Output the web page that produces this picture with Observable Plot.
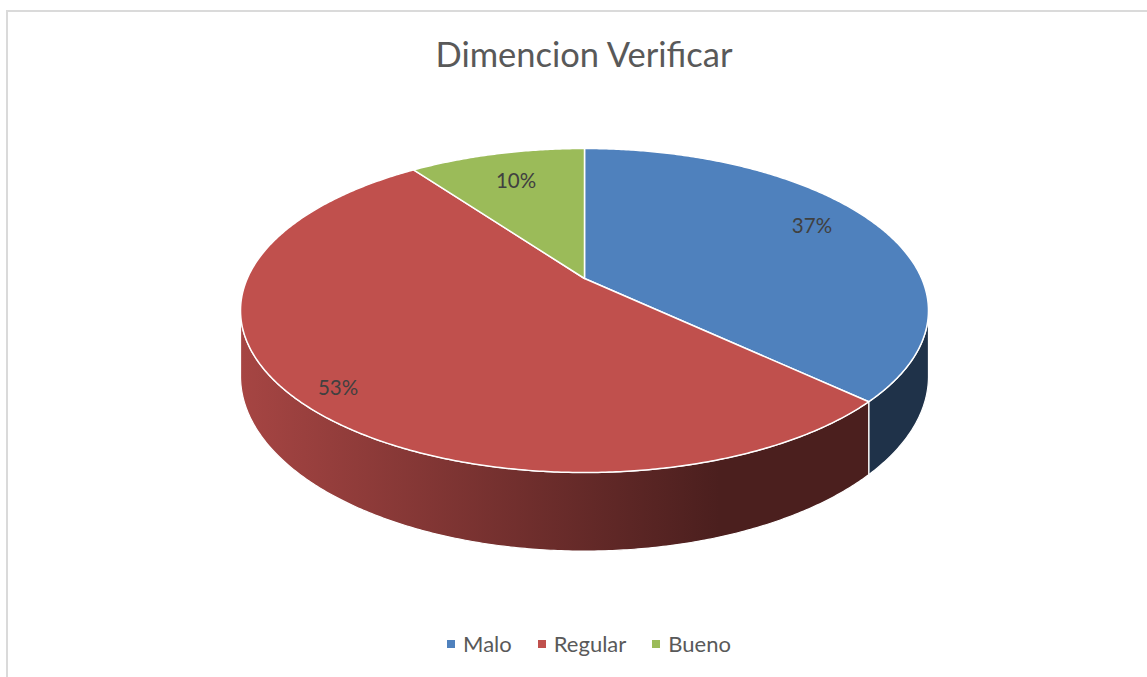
<!DOCTYPE html>
<html><head><meta charset="utf-8">
<script src="https://cdn.jsdelivr.net/npm/d3@7"></script>
<script src="https://cdn.jsdelivr.net/npm/@observablehq/plot@0.6"></script>
<style>
body{margin:0;width:1147px;height:677px;overflow:hidden;background:#fff;font-family:Lato,"Open Sans",sans-serif;position:relative}
#frame{position:absolute;left:6px;top:10px;width:1200px;height:700px;border-top:2px solid #dadada;border-left:2px solid #dadada}
#title{position:absolute;left:8px;width:1152px;top:34px;text-align:center;font-size:34.5px;color:#595959;line-height:40px}
#chart{position:absolute;left:0;top:92px}
#legend{position:absolute;left:13px;width:1152px;top:630px;text-align:center;font-size:22px;color:#595959;line-height:28px}
#legend .item{display:inline-block;margin:0 13px}
#legend .sw{display:inline-block;width:8px;height:8px;margin-right:8px;vertical-align:middle;position:relative;top:-2px}
</style></head><body>
<div id="frame"></div>
<div id="title"></div>
<div id="chart"></div>
<div id="legend"></div>
<script>
const titleText = "Dimencion Verificar";
const categories = ["Malo", "Regular", "Bueno"];
const percentages = [37, 53, 10];
const colors = ["#4f81bd", "#c0504d", "#9bbb59"];

// layout / projection constants (not data)
const W = 1147, H = 520, TOP = 92;
const CX = 584, CY = 278, A = 337.2, B = 155.7;
const P = 0.1975;       // perspective factor
const DEPTH = 0.405;    // side height in y-units

const total = d3.sum(percentages);
function proj(theta, r = 1, drop = 0) {
  const u = r * Math.sin(theta), v = r * Math.cos(theta);
  const w = 1 + P * v;
  return {x: u / w, y: (v - drop) / w};
}
const thR = Math.acos(-P), thL = 2 * Math.PI - thR;

let cum = 0;
const slices = categories.map((c, i) => {
  const t0 = 2 * Math.PI * cum / total;
  cum += percentages[i];
  const t1 = 2 * Math.PI * cum / total;
  return {c, i, t0, t1, pct: percentages[i]};
});

function arc(a, b, r = 1, drop = 0) {
  const n = Math.max(2, Math.ceil((b - a) / (Math.PI / 180) * 2));
  const pts = [];
  for (let k = 0; k <= n; k++) pts.push(proj(a + (b - a) * k / n, r, drop));
  return pts;
}

const marks = [];
// sides
slices.forEach(s => {
  const a = Math.max(s.t0, thR), b = Math.min(s.t1, thL);
  if (b <= a) return;
  const pts = [...arc(a, b, 1, 0), ...arc(a, b, 1, DEPTH).reverse()];
  marks.push(Plot.line(pts, {x: "x", y: "y", curve: "linear-closed", fill: `url(#side${s.i})`, stroke: "#ffffff", strokeWidth: 1.2, strokeLinejoin: "round"}));
});
// top faces
slices.forEach(s => {
  const pts = [{x: 0, y: 0}, ...arc(s.t0, s.t1)];
  marks.push(Plot.line(pts, {x: "x", y: "y", curve: "linear-closed", fill: colors[s.i], stroke: "#ffffff", strokeWidth: 1.5, strokeLinejoin: "round"}));
});
// labels (placement tweaks in pixels)
const labelR = [0.78, 0.88, 0.75];
const labelDx = [0, 5, 0];
const labelDy = [-7, 8, 0];
const labels = slices.map(s => {
  const m = (s.t0 + s.t1) / 2;
  const q = proj(m, labelR[s.i]);
  return {x: q.x + labelDx[s.i] / A, y: q.y - labelDy[s.i] / B, text: `${s.pct}%`};
});
marks.push(Plot.text(labels, {x: "x", y: "y", text: "text", fontSize: 20.5, fill: "#404040", fontFamily: "Lato, 'Open Sans', sans-serif"}));

const plot = Plot.plot({
  width: W, height: H, margin: 0,
  x: {domain: [-1, 1], range: [CX - A, CX + A], axis: null},
  y: {domain: [-1, 1], range: [CY - TOP + B, CY - TOP - B], axis: null},
  style: {background: "transparent", overflow: "visible"},
  marks
});

// gradients for the sides
const xs = plot.scale("x");
const defs = d3.select(plot).insert("defs", ":first-child");
slices.forEach(s => {
  const base = d3.color(colors[s.i]);
  const g = defs.append("linearGradient").attr("id", `side${s.i}`)
    .attr("gradientUnits", "userSpaceOnUse")
    .attr("x1", xs.apply(-1.02)).attr("x2", xs.apply(0.4)).attr("y1", 0).attr("y2", 0);
  g.append("stop").attr("offset", 0).attr("stop-color", base.darker(0.4).formatHex());
  g.append("stop").attr("offset", 1).attr("stop-color", base.darker(2.65).formatHex());
});
document.getElementById("chart").appendChild(plot);

document.getElementById("title").textContent = titleText;
const lg = d3.select("#legend");
categories.forEach((c, i) => {
  const it = lg.append("span").attr("class", "item");
  it.append("span").attr("class", "sw").style("background", colors[i]);
  it.append("span").text(c);
});
</script>
</body></html>
